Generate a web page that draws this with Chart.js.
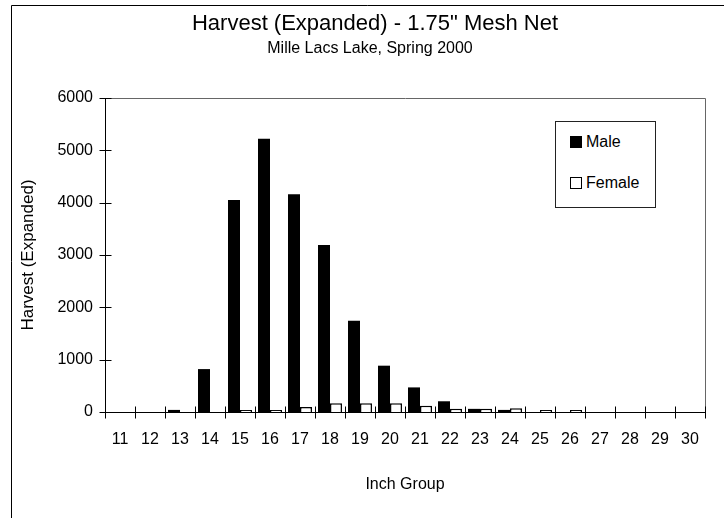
<!DOCTYPE html>
<html>
<head>
<meta charset="utf-8">
<script src="https://cdn.jsdelivr.net/npm/chart.js@4.4.0/dist/chart.umd.min.js"></script>
<style>
  body { margin: 0; background: #fff; }
  #wrap { position: relative; width: 724px; height: 518px; }
  #legend {
    position: absolute; left: 555px; top: 121px; width: 99px; height: 85px;
    border: 1px solid #222; background: #fff;
    font: 16px "Liberation Sans", Arial, sans-serif; color: #000;
  }
  .item { position: absolute; left: 14px; display: flex; align-items: center; height: 18px; }
  .sw { width: 12px; height: 12px; box-sizing: border-box; border: 1px solid #000; margin-right: 4px; }
</style>
</head>
<body>
<div id="wrap">
  <canvas id="chart" width="724" height="518"></canvas>
  <div id="legend"></div>
</div>
<script>
var inchGroups = ['11', '12', '13', '14', '15', '16', '17', '18', '19', '20',
                  '21', '22', '23', '24', '25', '26', '27', '28', '29', '30'];
var maleHarvest = [0, 0, 40, 820, 4050, 5220, 4160, 3190, 1745, 885,
                   470, 205, 60, 40, 0, 0, 0, 0, 0, 0];
var femaleHarvest = [0, 0, 0, 0, 40, 40, 95, 165, 165, 165,
                     120, 60, 60, 70, 40, 40, 0, 0, 0, 0];
var yMax = 6000;
var yStep = 1000;
var seriesNames = ['Male', 'Female'];

var titleText = 'Harvest (Expanded) - 1.75" Mesh Net';
var subtitleText = 'Mille Lacs Lake, Spring 2000';

Chart.defaults.font.family = '"Liberation Sans", Arial, sans-serif';
Chart.defaults.color = '#000';

// frame, axes lines with crossing ticks, and the two title lines
var decor = {
  id: 'decor',
  beforeDraw: function (chart) {
    var ctx = chart.ctx;
    ctx.save();
    ctx.fillStyle = '#fff';
    ctx.fillRect(0, 0, chart.width, chart.height);
    ctx.strokeStyle = '#000';
    ctx.lineWidth = 1;
    ctx.beginPath();
    ctx.moveTo(11.5, chart.height);
    ctx.lineTo(11.5, 5.5);
    ctx.lineTo(chart.width, 5.5);
    ctx.stroke();
    ctx.restore();
  },
  afterDraw: function (chart) {
    var ctx = chart.ctx;
    var a = chart.chartArea;
    var y = chart.scales.y;
    var l = Math.round(a.left) + 0.5, r = Math.round(a.right) + 0.5;
    var t = Math.round(a.top) + 0.5, b = Math.round(a.bottom) + 0.5;
    ctx.save();
    // top and right edge of the plot
    ctx.strokeStyle = '#666';
    ctx.lineWidth = 1;
    ctx.beginPath();
    ctx.moveTo(l, t); ctx.lineTo(r, t); ctx.lineTo(r, b);
    ctx.stroke();
    // axes
    ctx.strokeStyle = '#000';
    ctx.beginPath();
    ctx.moveTo(l, t); ctx.lineTo(l, b); ctx.lineTo(r, b);
    for (var i = 0; i < y.ticks.length; i++) {
      var py = Math.round(y.getPixelForTick(i)) + 0.5;
      ctx.moveTo(l - 6, py); ctx.lineTo(l + 6, py);
    }
    var n = inchGroups.length;
    for (var j = 0; j <= n; j++) {
      var px = Math.round(a.left + j * (a.right - a.left) / n) + 0.5;
      ctx.moveTo(px, b - 6); ctx.lineTo(px, b + 6);
    }
    ctx.stroke();
    // titles
    ctx.fillStyle = '#000';
    ctx.textAlign = 'center';
    ctx.textBaseline = 'middle';
    ctx.font = '22px "Liberation Sans", Arial, sans-serif';
    ctx.fillText(titleText, 375, 24);
    ctx.font = '16px "Liberation Sans", Arial, sans-serif';
    ctx.fillText(subtitleText, 370, 49);
    ctx.restore();
  }
};

var chart = new Chart(document.getElementById('chart').getContext('2d'), {
  type: 'bar',
  data: {
    labels: inchGroups,
    datasets: [
      {
        label: seriesNames[0],
        data: maleHarvest,
        backgroundColor: '#000',
        borderWidth: 0,
        categoryPercentage: 0.8,
        barPercentage: 1.0,
      },
      {
        label: seriesNames[1],
        data: femaleHarvest,
        backgroundColor: '#fff',
        borderColor: '#000',
        borderWidth: 1.5,
        categoryPercentage: 0.8,
        barPercentage: 1.0,
      },
    ],
  },
  options: {
    responsive: false,
    animation: false,
    layout: { padding: { left: 12, right: 19, top: 98, bottom: 0 } },
    plugins: {
      legend: { display: false },
      tooltip: { enabled: false },
    },
    scales: {
      x: {
        grid: { display: false, drawTicks: false },
        border: { display: false },
        ticks: { padding: 18, maxRotation: 0, autoSkip: false, font: { size: 16 } },
        title: { display: true, text: 'Inch Group', font: { size: 16 }, padding: { top: 0, bottom: 24 } },
        afterFit: function (s) { s.height = 106; },
      },
      y: {
        min: 0,
        max: yMax,
        grid: { display: false, drawTicks: false },
        border: { display: false },
        ticks: {
          stepSize: yStep,
          padding: 12,
          font: { size: 16 },
          callback: function (v) { return String(v); },
        },
        title: { display: true, text: 'Harvest (Expanded)', font: { size: 17 }, padding: { top: 6, bottom: 0 } },
        afterFit: function (s) { s.width = 93; },
      },
    },
  },
  plugins: [decor],
});

// legend box built from the datasets
var legendEl = document.getElementById('legend');
chart.data.datasets.forEach(function (ds, i) {
  var item = document.createElement('div');
  item.className = 'item';
  item.style.top = (i === 0 ? 11 : 52) + 'px';
  var sw = document.createElement('span');
  sw.className = 'sw';
  sw.style.background = ds.backgroundColor;
  item.appendChild(sw);
  item.appendChild(document.createTextNode(ds.label));
  legendEl.appendChild(item);
});
</script>
</body>
</html>
